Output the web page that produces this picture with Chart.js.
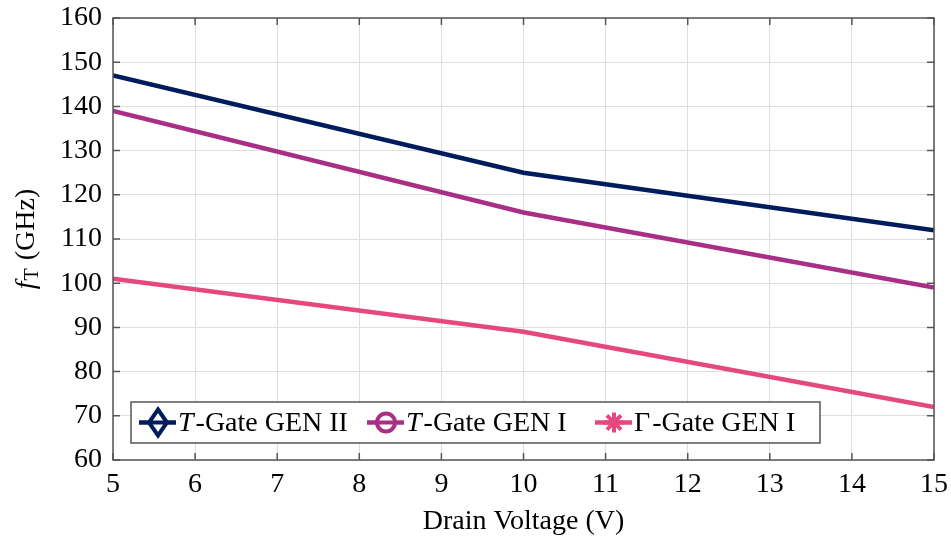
<!DOCTYPE html>
<html>
<head>
<meta charset="utf-8">
<script src="https://cdn.jsdelivr.net/npm/chart.js@4/dist/chart.umd.min.js"></script>
<style>
  html, body { margin: 0; padding: 0; background: #fff; }
  #wrap { width: 951px; height: 538px; }
</style>
</head>
<body>
<div id="wrap"><canvas id="myChart" width="951" height="538"></canvas></div>
<script>
// values
const voltages = [5, 10, 15];
const tGateGen2 = [147, 125, 112];
const tGateGen1 = [139, 116, 99];
const gammaGateGen1 = [101, 89, 72];

const colors = ['#001c5c', '#a82f85', '#e5487f'];
const legendNames = [['T', '-Gate GEN II'], ['T', '-Gate GEN I'], ['\u0393', '-Gate GEN I']];
const markers = ['diamond', 'circle', 'star'];

const serif = '"Liberation Serif", "Times New Roman", serif';
const axisGray = '#555';
const fs = 28;

function toPts(ys) {
  return voltages.map((v, i) => ({ x: v, y: ys[i] }));
}

function drawMarker(ctx, type, x, y, color) {
  ctx.save();
  ctx.strokeStyle = color;
  ctx.fillStyle = color;
  ctx.lineWidth = 4;
  if (type === 'diamond') {
    ctx.beginPath();
    ctx.moveTo(x, y - 13);
    ctx.lineTo(x + 9, y);
    ctx.lineTo(x, y + 13);
    ctx.lineTo(x - 9, y);
    ctx.closePath();
    ctx.fillStyle = '#fff';
    ctx.fill();
    ctx.stroke();
    ctx.beginPath();
    ctx.moveTo(x - 9, y); ctx.lineTo(x + 9, y); ctx.stroke();
  } else if (type === 'circle') {
    ctx.beginPath();
    ctx.arc(x, y, 9, 0, Math.PI * 2);
    ctx.fillStyle = '#fff';
    ctx.fill();
    ctx.stroke();
    ctx.beginPath();
    ctx.moveTo(x - 9, y); ctx.lineTo(x + 9, y); ctx.stroke();
  } else {
    ctx.lineWidth = 4;
    for (let k = 0; k < 4; k++) {
      const a = k * Math.PI / 4;
      ctx.beginPath();
      ctx.moveTo(x - 10 * Math.cos(a), y - 10 * Math.sin(a));
      ctx.lineTo(x + 10 * Math.cos(a), y + 10 * Math.sin(a));
      ctx.stroke();
    }
  }
  ctx.restore();
}

const decorations = {
  id: 'decorations',
  afterDraw(chart) {
    const ctx = chart.ctx;
    const a = chart.chartArea;
    const xs = chart.scales.x, ys = chart.scales.y;
    ctx.save();
    // frame
    ctx.strokeStyle = axisGray;
    ctx.lineWidth = 1.5;
    ctx.strokeRect(a.left, a.top, a.right - a.left, a.bottom - a.top);
    // inward ticks
    ctx.beginPath();
    xs.ticks.forEach(t => {
      const px = xs.getPixelForValue(t.value);
      ctx.moveTo(px, a.bottom); ctx.lineTo(px, a.bottom - 7);
      ctx.moveTo(px, a.top); ctx.lineTo(px, a.top + 7);
    });
    ys.ticks.forEach(t => {
      const py = ys.getPixelForValue(t.value);
      ctx.moveTo(a.left, py); ctx.lineTo(a.left + 7, py);
      ctx.moveTo(a.right, py); ctx.lineTo(a.right - 7, py);
    });
    ctx.stroke();

    // y axis title: f_T (GHz)
    ctx.save();
    ctx.translate(27, (a.top + a.bottom) / 2);
    ctx.rotate(-Math.PI / 2);
    ctx.fillStyle = '#000';
    ctx.textBaseline = 'middle';
    ctx.font = 'italic ' + fs + 'px ' + serif;
    const w1 = ctx.measureText('f').width;
    ctx.font = '20px ' + serif;
    const w2 = ctx.measureText('T').width;
    ctx.font = fs + 'px ' + serif;
    const w3 = ctx.measureText(' (GHz)').width;
    let x0 = -(w1 + w2 + 2 + w3) / 2;
    ctx.font = 'italic ' + fs + 'px ' + serif;
    ctx.fillText('f', x0, 0);
    ctx.font = '20px ' + serif;
    ctx.fillText('T', x0 + w1 + 1, 6);
    ctx.font = fs + 'px ' + serif;
    ctx.fillText(' (GHz)', x0 + w1 + w2 + 2, 0);
    ctx.restore();

    // legend
    const bx = 131, by = 402, bw = 689, bh = 41;
    ctx.fillStyle = '#fff';
    ctx.fillRect(bx, by, bw, bh);
    ctx.strokeStyle = axisGray;
    ctx.lineWidth = 1.5;
    ctx.strokeRect(bx, by, bw, bh);
    const cy = by + bh / 2;
    const startX = [139, 367, 595];
    chart.data.datasets.forEach((ds, i) => {
      const lx = startX[i];
      ctx.strokeStyle = ds.borderColor;
      ctx.lineWidth = 4.5;
      ctx.beginPath();
      ctx.moveTo(lx, cy); ctx.lineTo(lx + 37, cy); ctx.stroke();
      drawMarker(ctx, markers[i], lx + 19, cy, ds.borderColor);
      ctx.fillStyle = '#000';
      ctx.textBaseline = 'middle';
      const [first, rest] = legendNames[i];
      ctx.font = (i < 2 ? 'italic ' : '') + fs + 'px ' + serif;
      let tx = lx + 39;
      ctx.fillText(first, tx, cy + 1);
      tx += ctx.measureText(first).width + 2;
      ctx.font = fs + 'px ' + serif;
      ctx.fillText(rest, tx, cy + 1);
    });
    ctx.restore();
  }
};

const ctx = document.getElementById('myChart');
const configuration = {
  type: 'line',
  data: {
    datasets: [
      { label: 'T-Gate GEN II', data: toPts(tGateGen2), borderColor: colors[0] },
      { label: 'T-Gate GEN I', data: toPts(tGateGen1), borderColor: colors[1] },
      { label: '\u0393-Gate GEN I', data: toPts(gammaGateGen1), borderColor: colors[2] }
    ]
  },
  options: {
    responsive: false,
    animation: false,
    layout: { padding: { top: 17, right: 17, left: 0, bottom: 0 } },
    elements: {
      line: { borderWidth: 4.5, tension: 0, borderCapStyle: 'butt' },
      point: { radius: 0 }
    },
    plugins: { legend: { display: false }, tooltip: { enabled: false } },
    scales: {
      x: {
        type: 'linear', min: 5, max: 15,
        ticks: { stepSize: 1, color: '#000', font: { family: serif, size: fs }, padding: 8 },
        grid: { color: '#dedede', lineWidth: 1, drawTicks: false },
        border: { display: false },
        title: { display: true, text: 'Drain Voltage (V)', color: '#000', font: { family: serif, size: fs }, padding: { top: 4, bottom: 0 } },
        afterFit(s) { s.height = 78; s.paddingLeft = 0; s.paddingRight = 0; }
      },
      y: {
        min: 60, max: 160,
        ticks: { stepSize: 10, color: '#000', font: { family: serif, size: fs, lineHeight: 0.5 }, padding: 11 },
        grid: { color: '#dedede', lineWidth: 1, drawTicks: false },
        border: { display: false },
        afterFit(s) { s.width = 113; }
      }
    }
  },
  plugins: [decorations]
};

let chart = new Chart(ctx, configuration);
</script>
</body>
</html>
